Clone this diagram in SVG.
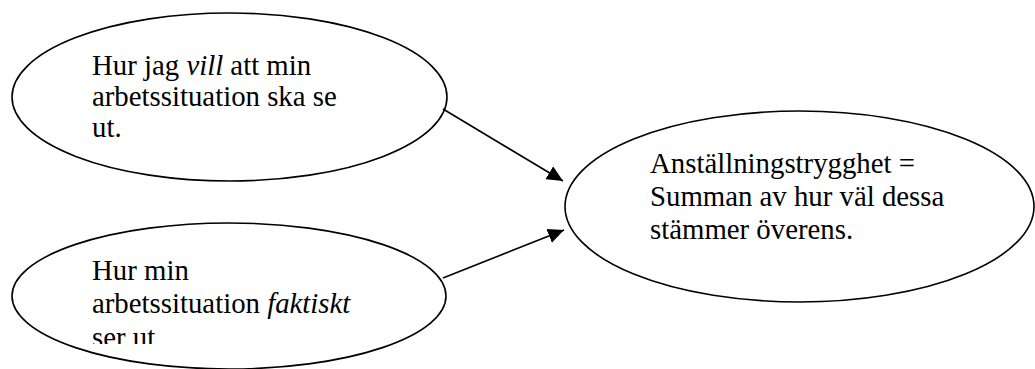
<svg xmlns="http://www.w3.org/2000/svg" width="1035" height="369" viewBox="0 0 1035 369">
<style>
.shape{fill:#fff;stroke:#000;stroke-width:1.6}
.lbl{font-family:"Liberation Serif","Times New Roman",serif;font-size:28.8px;fill:#000}
.edge{stroke:#000;stroke-width:1.6;fill:none}
</style>
<defs>
<marker id="arr" viewBox="0 0 16 15" refX="16" refY="7.5" markerWidth="16" markerHeight="15" markerUnits="userSpaceOnUse" orient="auto">
<path d="M0,0 L16,7.5 L0,15 z" fill="#000"/>
</marker>
<clipPath id="clip2"><rect x="0" y="0" width="460" height="344"/></clipPath>
</defs>
<rect width="1035" height="369" fill="#fff"/>
<g id="node-vill">
<ellipse class="shape" cx="229.5" cy="97" rx="217.5" ry="84"/>
<text class="lbl" x="92" y="75">Hur jag <tspan font-style="italic">vill</tspan> att min</text>
<text class="lbl" x="92" y="106">arbetssituation ska se</text>
<text class="lbl" x="92" y="137">ut.</text>
</g>
<g id="node-faktiskt">
<ellipse class="shape" cx="229" cy="296" rx="217" ry="73"/>
<g clip-path="url(#clip2)">
<text class="lbl" x="92" y="280">Hur min</text>
<text class="lbl" x="92" y="313">arbetssituation <tspan font-style="italic">faktiskt</tspan></text>
<text class="lbl" x="92" y="347">ser ut</text>
</g>
</g>
<g id="node-trygghet">
<ellipse class="shape" cx="799.5" cy="206.5" rx="234.5" ry="95.5"/>
<text class="lbl" x="650" y="173">Anställningstrygghet =</text>
<text class="lbl" x="650" y="206">Summan av hur väl dessa</text>
<text class="lbl" x="650" y="239">stämmer överens.</text>
</g>
<g id="connectors">
<line class="edge" x1="443" y1="109" x2="563" y2="181" marker-end="url(#arr)"/>
<line class="edge" x1="443" y1="278" x2="564" y2="230" marker-end="url(#arr)"/>
</g>
</svg>
